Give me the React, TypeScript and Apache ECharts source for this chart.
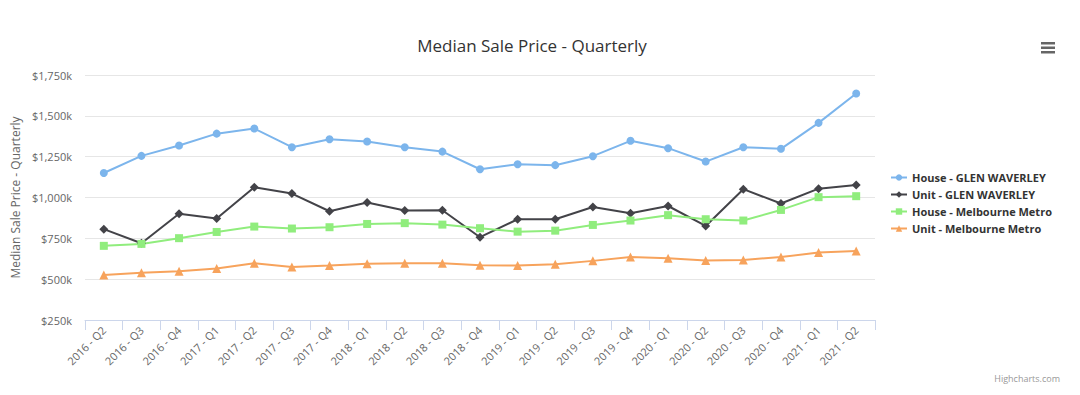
import React, { useEffect, useRef } from "react";
import * as echarts from "echarts";

const categories = [
  "2016 - Q2", "2016 - Q3", "2016 - Q4",
  "2017 - Q1", "2017 - Q2", "2017 - Q3", "2017 - Q4",
  "2018 - Q1", "2018 - Q2", "2018 - Q3", "2018 - Q4",
  "2019 - Q1", "2019 - Q2", "2019 - Q3", "2019 - Q4",
  "2020 - Q1", "2020 - Q2", "2020 - Q3", "2020 - Q4",
  "2021 - Q1", "2021 - Q2",
];

// values in $k
const houseGlenWaverley = [1150, 1255, 1318, 1391, 1422, 1308, 1357, 1343, 1308, 1281, 1173, 1204, 1198, 1253, 1347, 1302, 1220, 1308, 1298, 1457, 1637];
const unitGlenWaverley = [806, 720, 900, 871, 1063, 1024, 916, 969, 920, 922, 757, 867, 867, 942, 904, 948, 826, 1051, 963, 1054, 1077];
const houseMelbourneMetro = [704, 716, 751, 789, 822, 810, 818, 838, 843, 834, 812, 791, 797, 832, 859, 892, 867, 859, 924, 1002, 1008];
const unitMelbourneMetro = [526, 539, 549, 565, 598, 575, 583, 595, 598, 598, 585, 583, 592, 612, 635, 628, 614, 618, 635, 663, 673];

const seriesNames = [
  "House - GLEN WAVERLEY",
  "Unit - GLEN WAVERLEY",
  "House - Melbourne Metro",
  "Unit - Melbourne Metro",
];
const colors = ["#7cb5ec", "#434348", "#90ed7d", "#f7a35c"];
const symbols = ["circle", "diamond", "rect", "triangle"];

const FONT = "'Open Sans', 'Noto Sans', Arial, sans-serif";

export default function App() {
  const ref = useRef<HTMLDivElement>(null);

  useEffect(() => {
    if (!ref.current) return;
    const chart = echarts.init(ref.current, undefined, { renderer: "svg" });
    const datasets = [houseGlenWaverley, unitGlenWaverley, houseMelbourneMetro, unitMelbourneMetro];
    chart.setOption({
      animation: false,
      backgroundColor: "#ffffff",
      textStyle: { fontFamily: FONT },
      title: {
        text: "Median Sale Price - Quarterly",
        left: 527,
        top: 32,
        textAlign: "center",
        textStyle: { fontSize: 17, fontWeight: "normal", color: "#333333", fontFamily: FONT },
      },
      legend: {
        orient: "vertical",
        left: 885,
        top: 167,
        itemWidth: 16,
        itemHeight: 8,
        itemGap: 6,
        data: seriesNames,
        textStyle: { fontSize: 11, fontWeight: "bold", color: "#333333", fontFamily: FONT },
      },
      grid: { left: 85, right: 205, top: 75, bottom: 75, containLabel: false },
      xAxis: {
        type: "category",
        data: categories,
        boundaryGap: true,
        axisLine: { lineStyle: { color: "#ccd6eb", width: 1 } },
        axisTick: { show: true, length: 10, lineStyle: { color: "#ccd6eb" } },
        axisLabel: { rotate: 45, color: "#666666", fontSize: 11, margin: 8, fontFamily: FONT },
        splitLine: { show: false },
      },
      yAxis: {
        type: "value",
        min: 250,
        max: 1750,
        interval: 250,
        name: "Median Sale Price - Quarterly",
        nameLocation: "middle",
        nameGap: 53,
        nameTextStyle: { color: "#666666", fontSize: 12, fontFamily: FONT },
        axisLine: { show: false },
        axisTick: { show: false },
        axisLabel: {
          color: "#666666",
          fontSize: 11,
          margin: 13,
          fontFamily: FONT,
          formatter: (v: number) => "$" + v.toLocaleString("en-US") + "k",
        },
        splitLine: { lineStyle: { color: "#e6e6e6", width: 1 } },
      },
      series: datasets.map((d, i) => ({
        name: seriesNames[i],
        type: "line",
        data: d,
        symbol: symbols[i],
        symbolSize: i === 1 ? 9 : i === 3 ? 9 : 8,
        showAllSymbol: true,
        lineStyle: { width: 2, color: colors[i] },
        itemStyle: { color: colors[i] },
        emphasis: { disabled: true },
      })),
      graphic: [
        { type: "rect", left: 1041, top: 42, shape: { width: 14, height: 2.5 }, style: { fill: "#666666" } },
        { type: "rect", left: 1041, top: 46.5, shape: { width: 14, height: 2.5 }, style: { fill: "#666666" } },
        { type: "rect", left: 1041, top: 51, shape: { width: 14, height: 2.5 }, style: { fill: "#666666" } },
        {
          type: "text",
          right: 20,
          top: 374,
          style: { text: "Highcharts.com", fill: "#999999", fontSize: 9, fontFamily: FONT },
        },
      ],
    });
    return () => chart.dispose();
  }, []);

  return (
    <div
      ref={ref}
      style={{ position: "fixed", left: 0, top: 0, width: 1080, height: 395, background: "#fff" }}
    />
  );
}
